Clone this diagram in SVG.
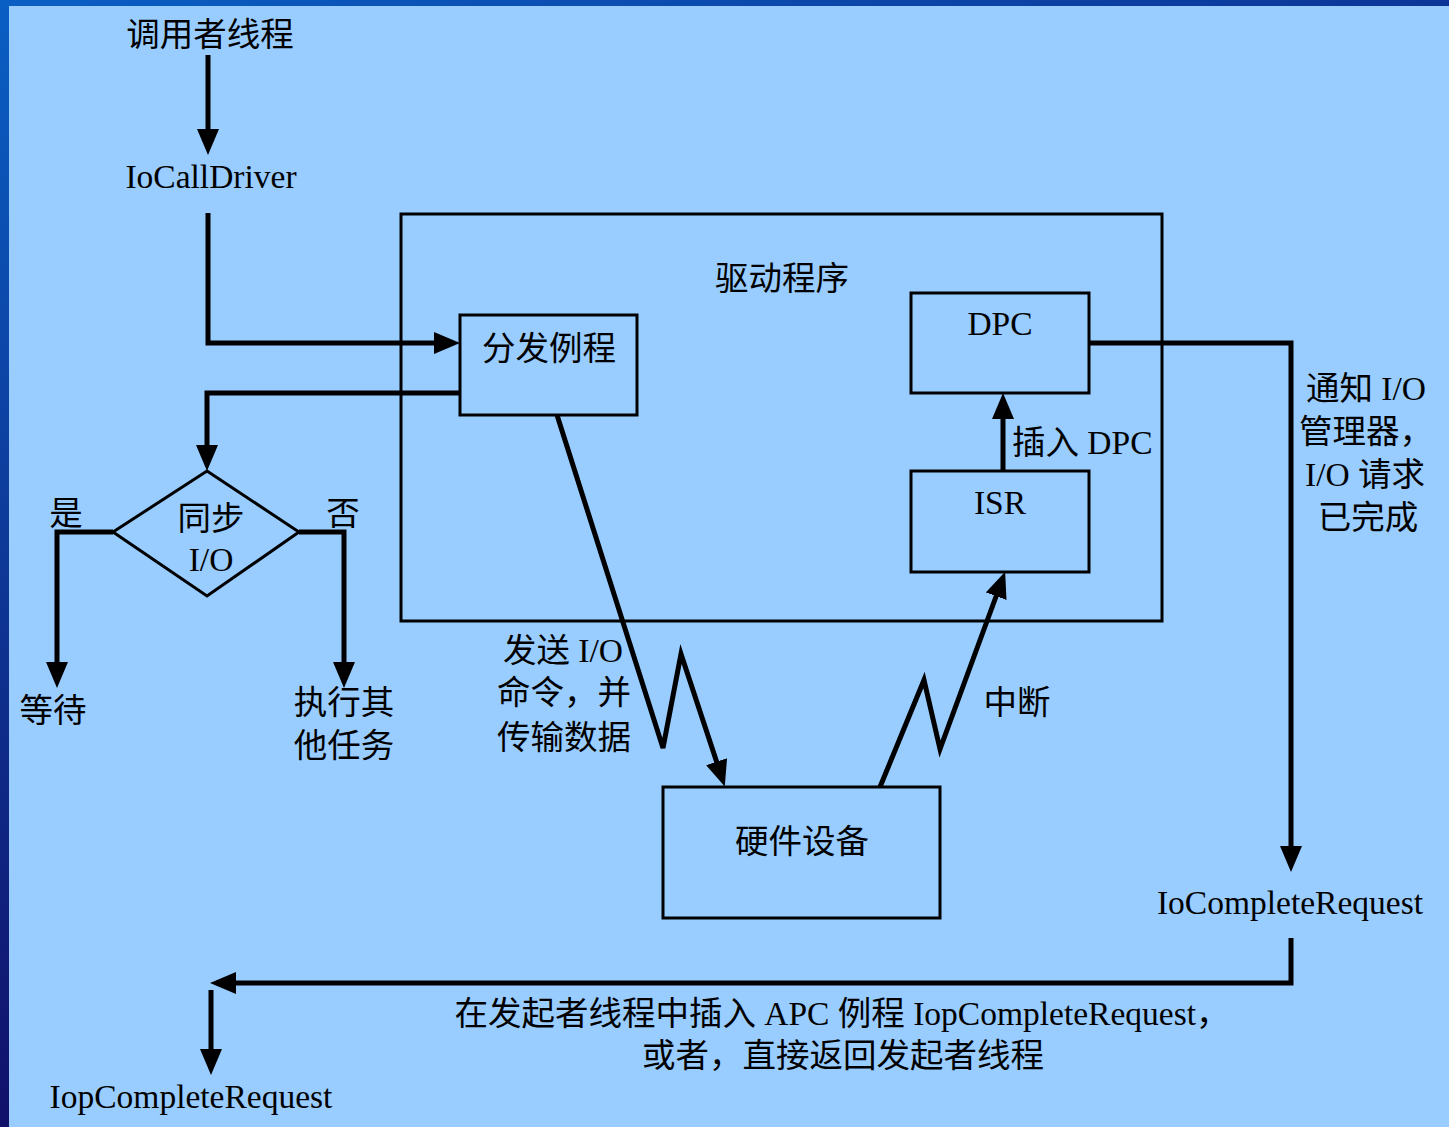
<svg xmlns="http://www.w3.org/2000/svg" width="1449" height="1127" viewBox="0 0 1449 1127">
<defs>
<linearGradient id="gTop" x1="0" y1="0" x2="1" y2="0"><stop offset="0" stop-color="#0A5FC4"/><stop offset="1" stop-color="#0D3598"/></linearGradient>
<linearGradient id="gLeft" x1="0" y1="0" x2="0" y2="1"><stop offset="0" stop-color="#0A5FC4"/><stop offset="1" stop-color="#11106A"/></linearGradient>
<marker id="arr" markerUnits="userSpaceOnUse" markerWidth="28" markerHeight="24" refX="14" refY="11" orient="auto" viewBox="0 0 28 24">
<path d="M0,0 L26,11 L0,22 z" fill="#000"/>
</marker>
<style>
.bg{fill:#99CCFF}
.box{fill:none;stroke:#000;stroke-width:3}
.conn{fill:none;stroke:#000;stroke-width:5;stroke-linejoin:miter}
.ca{marker-end:url(#arr)}
text{font-family:"Liberation Serif","Noto Sans CJK SC",serif;font-size:33.5px;fill:#000}
.m{text-anchor:middle}
</style>
</defs>
<rect x="0" y="0" width="1449" height="1127" class="bg"/>
<rect x="0" y="0" width="1449" height="6" fill="url(#gTop)"/>
<rect x="0" y="0" width="9" height="1127" fill="url(#gLeft)"/>

<g id="caller"><text class="m" x="210" y="46">调用者线程</text></g>
<g id="iocalldriver"><text class="m" x="211" y="188">IoCallDriver</text></g>
<g id="driver"><rect class="box" x="401" y="214" width="761" height="407"/><text class="m" x="782" y="290">驱动程序</text></g>
<g id="dispatch"><rect class="box" x="460" y="315" width="177" height="100"/><text class="m" x="549" y="360">分发例程</text></g>
<g id="sync"><path class="box" d="M207,471 L299,532 L207,596 L113,532 z"/><text class="m" x="211" y="530">同步</text><text class="m" x="211" y="571">I/O</text></g>
<g id="wait"><text class="m" x="53" y="722">等待</text></g>
<g id="other"><text class="m" x="344" y="714">执行其</text><text class="m" x="344" y="757">他任务</text></g>
<g id="dpc"><rect class="box" x="911" y="293" width="178" height="100"/><text class="m" x="1000" y="335">DPC</text></g>
<g id="isr"><rect class="box" x="911" y="471" width="178" height="101"/><text class="m" x="1000" y="514">ISR</text></g>
<g id="hw"><rect class="box" x="663" y="787" width="277" height="131"/><text class="m" x="802" y="853">硬件设备</text></g>
<g id="iocomplete"><text class="m" x="1290" y="914">IoCompleteRequest</text></g>
<g id="iopcomplete"><text class="m" x="191" y="1108">IopCompleteRequest</text></g>

<g id="connectors">
<path class="conn ca" d="M208,55 L208,143"/>
<path class="conn ca" d="M208,213 L208,343 L448,343"/>
<path class="conn ca" d="M460,393 L207,393 L207,459"/>
<path class="conn ca" d="M113,532 L57,532 L57,676"/>
<path class="conn ca" d="M299,532 L344,532 L344,676"/>
<path class="conn ca" d="M1003,471 L1003,405"/>
<path class="conn ca" d="M1089,343 L1291,343 L1291,860"/>
<path class="conn ca" d="M1291,938 L1291,983 L222,983"/>
<path class="conn ca" d="M211,990 L211,1063"/>
<path class="conn ca" d="M557,415 L663,748 L681,654 L721,775"/>
<path class="conn ca" d="M880,787 L924,680 L940,749 L1001,583"/>
</g>

<g id="labels">
<text class="m" x="66" y="525">是</text>
<text class="m" x="343" y="525">否</text>
<text x="1012" y="454">插入 DPC</text>
<text class="m" x="1366" y="400">通知 I/O</text>
<text class="m" x="1366" y="443">管理器，</text>
<text class="m" x="1365" y="486">I/O 请求</text>
<text class="m" x="1368" y="529">已完成</text>
<text class="m" x="563" y="662">发送 I/O</text>
<text class="m" x="564" y="704">命令，并</text>
<text class="m" x="564" y="749">传输数据</text>
<text class="m" x="1017" y="714">中断</text>
<text class="m" x="842" y="1025">在发起者线程中插入 APC 例程 IopCompleteRequest，</text>
<text class="m" x="843" y="1067">或者，直接返回发起者线程</text>
</g>
</svg>
